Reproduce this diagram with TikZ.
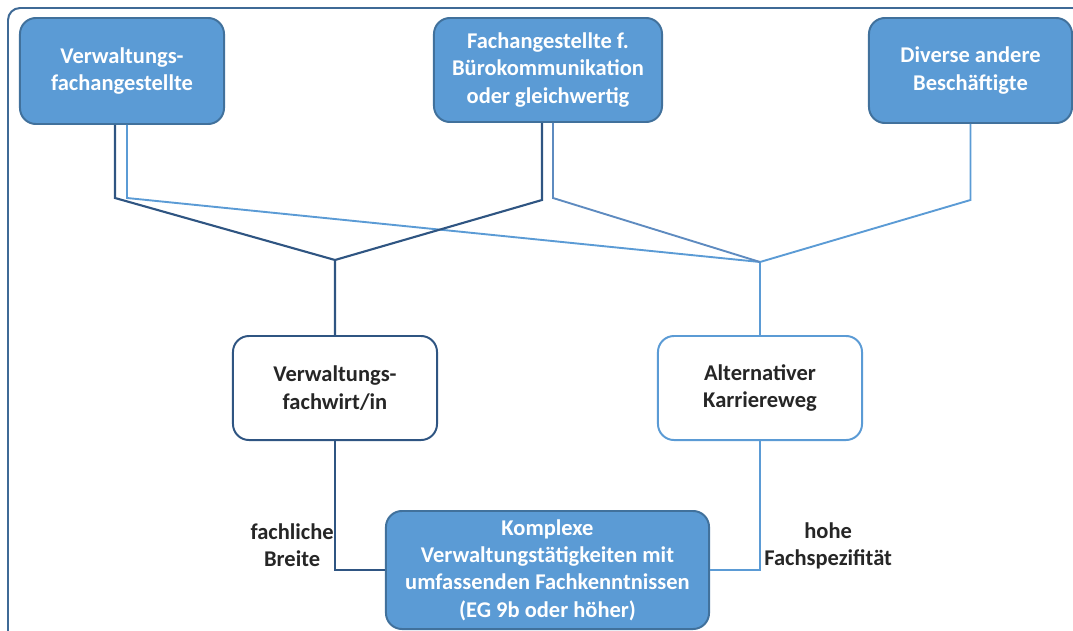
\documentclass[tikz,border=0pt]{standalone}
\usepackage{fontspec}
\setmainfont{Carlito}
\usepackage{tikz}
\usetikzlibrary{calc}
\definecolor{boxblue}{HTML}{5B9BD5}
\definecolor{boxedge}{HTML}{41719C}
\definecolor{darkline}{HTML}{2F5582}
\definecolor{lightline}{HTML}{5B9BD5}
\definecolor{midline}{HTML}{5E8BC0}
\definecolor{frameline}{HTML}{3F6A96}
\definecolor{txtgray}{HTML}{262626}
\newcommand{\boxfont}{\fontsize{16}{19.5}\selectfont\bfseries}
\tikzset{
  filledbox/.style={draw=boxedge,fill=boxblue,line width=1.4pt,rounded corners=0.4cm,text=white,font=\boxfont,align=center,inner sep=0pt},
  openbox/.style={draw=#1,fill=white,line width=1.4pt,rounded corners=0.4cm,text=txtgray,font=\boxfont,align=center,inner sep=0pt,minimum width=5.1cm,minimum height=2.6cm},
  darkln/.style={draw=darkline,line width=1.5pt},
  lightln/.style={draw=lightline,line width=1.35pt},
  lbl/.style={text=txtgray,font=\boxfont,align=center,inner sep=0pt}
}

\begin{document}
\begin{tikzpicture}[x={(0.025cm,0cm)},y={(0cm,-0.025cm)}]
      \useasboundingbox (0,0) rectangle (1073,631);
      \begin{scope}
        \clip (0,0) rectangle (1073,631);
        \draw[frameline,line width=1.4pt,rounded corners=0.3cm] (8,8) rectangle (1100,660);
      \end{scope}
      \node[filledbox,minimum width=5.1cm,minimum height=2.65cm] (va) at (122,71) {Verwaltungs-\\fachangestellte};
      \node[filledbox,minimum width=5.7cm,minimum height=2.6cm] (fb) at (548,70) {Fachangestellte f.\\Bürokommunikation\\oder gleichwertig};
      \node[filledbox,minimum width=5.075cm,minimum height=2.625cm] (da) at (970.5,70.5) {Diverse andere\\Beschäftigte};
      \node[openbox=darkline] (fw) at (335,388) {Verwaltungs-\\fachwirt/in};
      \node[openbox=lightline] (ak) at (760,388) {Alternativer\\Karriereweg};
      \node[filledbox,minimum width=8.075cm,minimum height=2.95cm] (kv) at (547.5,570) {Komplexe\\Verwaltungstätigkeiten mit\\umfassenden Fachkenntnissen\\(EG 9b oder höher)};
      \node[lbl,anchor=east] (breite) at (334,545) {fachliche\\Breite};
      \node[lbl,anchor=west] (spez) at (764,546) {hohe\\Fachspezifität};
      \coordinate (jl) at (335,260);
      \coordinate (jr) at (760,262);
      \draw[lightln] ($(va.south)+(5,0)$) -- ++(0,73) -- (jr) -- (ak.north);
      \draw[lightln,draw=midline] ($(fb.south)+(5,0)$) -- ++(0,75) -- (jr);
      \draw[lightln] (da.south) -- ++(0,76) -- (jr);
      \draw[lightln] (ak.south) |- (kv.east);
      \draw[darkln] ($(va.south)+(-7,0)$) -- ++(0,73) -- (jl) -- (fw.north);
      \draw[darkln] ($(fb.south)+(-6,0)$) -- ++(0,77) -- (jl);
      \draw[darkln] (fw.south) |- (kv.west);
    \end{tikzpicture}
\end{document}
